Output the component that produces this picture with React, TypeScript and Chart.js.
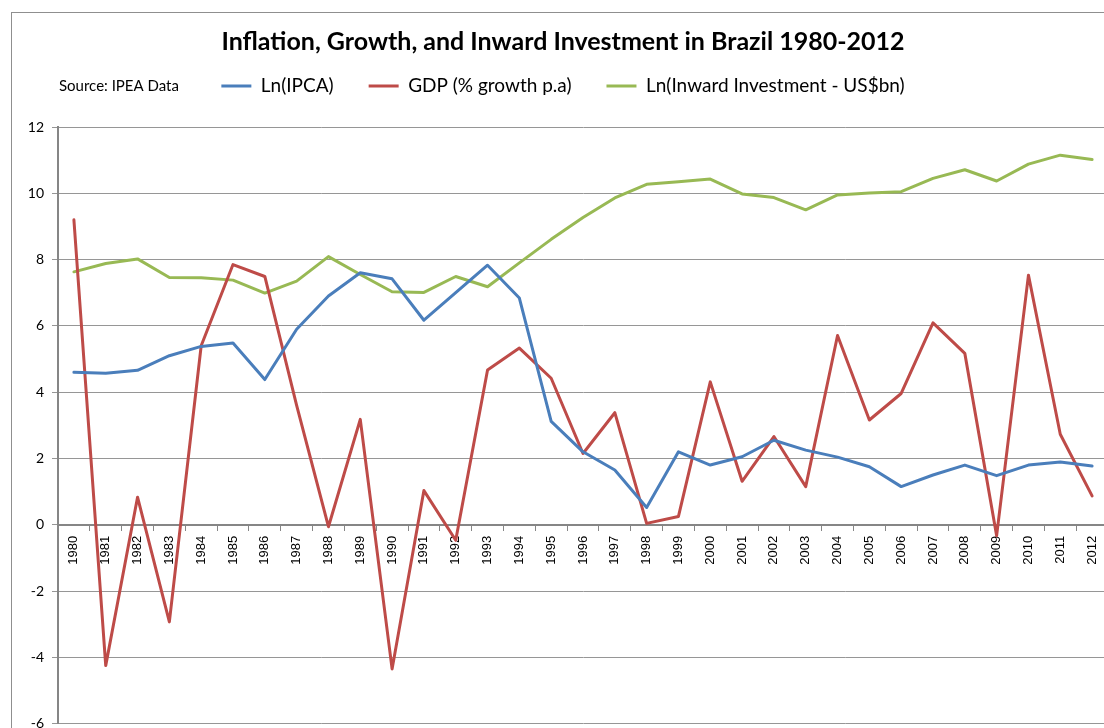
import { useEffect, useRef } from 'react';
import { Chart, registerables } from 'chart.js';

Chart.register(...registerables);

const TITLE = 'Inflation, Growth, and Inward Investment in Brazil 1980-2012';
const SOURCE_NOTE = 'Source: IPEA Data';

const YEARS = [
  '1980', '1981', '1982', '1983', '1984', '1985', '1986', '1987', '1988', '1989',
  '1990', '1991', '1992', '1993', '1994', '1995', '1996', '1997', '1998', '1999',
  '2000', '2001', '2002', '2003', '2004', '2005', '2006', '2007', '2008', '2009',
  '2010', '2011', '2012',
];

const LN_IPCA = [
  4.6, 4.57, 4.66, 5.1, 5.38, 5.48, 4.38, 5.9, 6.9, 7.6,
  7.42, 6.17, 7.0, 7.83, 6.84, 3.12, 2.2, 1.65, 0.52, 2.2,
  1.8, 2.05, 2.55, 2.25, 2.04, 1.75, 1.15, 1.5, 1.8, 1.48,
  1.8, 1.89, 1.77,
];

const GDP_GROWTH = [
  9.2, -4.25, 0.83, -2.93, 5.4, 7.85, 7.49, 3.6, -0.06, 3.18,
  -4.35, 1.03, -0.47, 4.67, 5.33, 4.42, 2.15, 3.38, 0.04, 0.25,
  4.31, 1.31, 2.66, 1.15, 5.71, 3.16, 3.96, 6.09, 5.17, -0.33,
  7.53, 2.73, 0.87,
];

const LN_INWARD = [
  7.63, 7.88, 8.02, 7.46, 7.45, 7.38, 6.99, 7.35, 8.09, 7.55,
  7.03, 7.01, 7.49, 7.18, 7.9, 8.61, 9.27, 9.86, 10.27, 10.35,
  10.43, 9.98, 9.87, 9.5, 9.95, 10.01, 10.05, 10.45, 10.71, 10.37,
  10.88, 11.15, 11.02,
];

const SERIES_NAMES = ['Ln(IPCA)', 'GDP (% growth p.a)', 'Ln(Inward Investment - US$bn)'];
const SERIES_COLORS = ['#4a7ebb', '#be4b48', '#98b954'];
const Y_TICKS = [-6, -4, -2, 0, 2, 4, 6, 8, 10, 12];

const sourceNotePlugin = {
  id: 'sourceNote',
  afterDraw(chart: any) {
    const ctx = chart.ctx;
    ctx.save();
    ctx.font = '15px Lato';
    ctx.fillStyle = '#000000';
    ctx.textAlign = 'left';
    ctx.textBaseline = 'middle';
    ctx.fillText(SOURCE_NOTE, 59, 86);
    ctx.restore();
  },
};

export default function App() {
  const canvasRef = useRef<HTMLCanvasElement | null>(null);

  useEffect(() => {
    const canvas = canvasRef.current;
    if (!canvas) return;
    const seriesData = [LN_IPCA, GDP_GROWTH, LN_INWARD];
    const chart = new Chart(canvas, {
      type: 'line',
      data: {
        labels: YEARS,
        datasets: seriesData.map((d, i) => ({
          label: SERIES_NAMES[i],
          data: d,
          borderColor: SERIES_COLORS[i],
          backgroundColor: SERIES_COLORS[i],
          borderWidth: 3,
          pointRadius: 0,
          pointHoverRadius: 0,
          tension: 0,
          fill: false,
          xAxisID: 'x',
          yAxisID: 'y',
          borderJoinStyle: 'round' as const,
          borderCapStyle: 'round' as const,
        })),
      },
      options: {
        responsive: false,
        animation: false,
        devicePixelRatio: 1,
        layout: { padding: { top: 0, left: 18, right: 22, bottom: 13 } },
        plugins: {
          title: {
            display: true,
            text: TITLE,
            color: '#000000',
            font: { family: 'Lato', size: 25, weight: 'bold', lineHeight: 1.2 },
            padding: { top: 27, bottom: -15.5 },
          },
          legend: {
            display: true,
            position: 'top',
            labels: {
              color: '#000000',
              font: { family: 'Lato', size: 19 },
              boxWidth: 30,
              boxHeight: 3,
              padding: 35,
              generateLabels(ch: any) {
                return ch.data.datasets.map((ds: any, i: number) => ({
                  text: ds.label,
                  fillStyle: ds.borderColor,
                  strokeStyle: ds.borderColor,
                  lineWidth: 0,
                  hidden: false,
                  datasetIndex: i,
                  fontColor: '#000000',
                }));
              },
            },
          },
          tooltip: { enabled: false },
        },
        scales: {
          x: {
            type: 'category',
            position: { y: 0 } as any,
            offset: true,
            grid: {
              display: true,
              offset: true,
              drawOnChartArea: false,
              drawTicks: true,
              tickLength: 5,
              color: '#868686',
              lineWidth: 1,
            },
            border: { display: true, color: '#868686', width: 2 },
            ticks: {
              autoSkip: false,
              minRotation: 90,
              maxRotation: 90,
              padding: 6,
              color: '#000000',
              font: { family: 'Liberation Sans', size: 13 },
            },
            afterFit(scale: any) {
              scale.height = 0;
            },
          },
          xTop: {
            type: 'category',
            position: 'top',
            display: true,
            grid: { display: false, drawTicks: false },
            border: { display: false },
            ticks: { display: false },
            afterFit(scale: any) {
              scale.height = 21.5;
            },
          },
          y: {
            type: 'linear',
            position: 'left',
            min: Y_TICKS[0],
            max: Y_TICKS[Y_TICKS.length - 1],
            ticks: {
              stepSize: Y_TICKS[1] - Y_TICKS[0],
              padding: 8,
              color: '#000000',
              font: { family: 'Lato', size: 14 },
            },
            grid: {
              color: '#969696',
              lineWidth: 1,
              drawTicks: true,
              tickLength: 6,
            },
            border: { display: true, color: '#868686', width: 2 },
            afterFit(scale: any) {
              scale.width = 40;
            },
          },
        },
      },
      plugins: [sourceNotePlugin],
    } as any);
    return () => chart.destroy();
  }, []);

  return (
    <div
      style={{
        position: 'fixed',
        left: 0,
        top: 0,
        width: 1104,
        height: 728,
        overflow: 'hidden',
        background: '#ffffff',
      }}
    >
      <div
        style={{
          position: 'absolute',
          left: 11,
          top: 12,
          width: 1200,
          height: 800,
          borderLeft: '1px solid #8f8f8f',
          borderTop: '1px solid #8f8f8f',
        }}
      />
      <canvas
        ref={canvasRef}
        width={1130}
        height={740}
        style={{ position: 'absolute', left: 0, top: 0, display: 'block' }}
      />
    </div>
  );
}
